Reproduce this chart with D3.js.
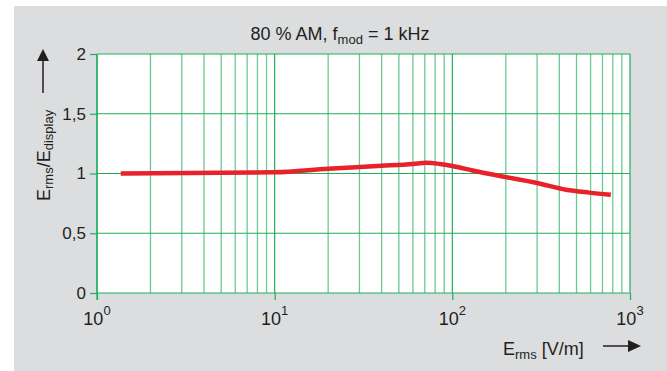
<!DOCTYPE html>
<html><head><meta charset="utf-8">
<script src="https://cdn.jsdelivr.net/npm/d3@7"></script>
<style>
html,body{margin:0;padding:0;background:#fff;}
svg text{font-family:"Liberation Sans",Arial,sans-serif;fill:#231f20;}
</style></head>
<body>
<svg id="c" width="667" height="371"></svg>
<script>
const fieldVm = [1.36, 10, 20, 40, 60, 71, 85, 100, 130, 200, 300, 437, 590, 780];
const ratio   = [1.00, 1.01, 1.04, 1.064, 1.08, 1.09, 1.08, 1.063, 1.025, 0.97, 0.92, 0.864, 0.84, 0.822];
const yTicks = [0, 0.5, 1, 1.5, 2];
const yTickLabels = ["0", "0,5", "1", "1,5", "2"];
const xDecades = [1, 10, 100, 1000];
const xDecadeExp = ["0", "1", "2", "3"];

const svg = d3.select("#c");
svg.append("rect").attr("x",14).attr("y",6).attr("width",653).attr("height",365).attr("fill","#dcdddf");

const L=97, R=630, T=54, B=293;
const x = d3.scaleLog().domain([1,1000]).range([L,R]);
const y = d3.scaleLinear().domain([0,2]).range([B,T]);

svg.append("rect").attr("x",L).attr("y",T).attr("width",R-L).attr("height",B-T).attr("fill","#fff");

// minor vertical grid
const minor = [];
for (let d=1; d<1000; d*=10) for (let k=2;k<=9;k++) minor.push(d*k);
svg.append("g").selectAll("line").data(minor).join("line")
  .attr("x1",d=>x(d)).attr("x2",d=>x(d)).attr("y1",T).attr("y2",B)
  .attr("stroke","#6cc994").attr("stroke-width",1.3);
// major vertical
svg.append("g").selectAll("line").data(xDecades).join("line")
  .attr("x1",d=>x(d)).attr("x2",d=>x(d)).attr("y1",T).attr("y2",B)
  .attr("stroke","#1fae5a").attr("stroke-width",1.2);
// horizontal grid
svg.append("g").selectAll("line").data(yTicks).join("line")
  .attr("x1",L).attr("x2",R).attr("y1",d=>y(d)).attr("y2",d=>y(d))
  .attr("stroke","#1fae5a").attr("stroke-width",1.2);

// axes
const yAxis = d3.axisLeft(y).tickValues(yTicks).tickSize(7).tickPadding(4)
  .tickFormat((d,i)=>yTickLabels[i]);
const gy = svg.append("g").attr("transform",`translate(${L},0)`).call(yAxis);
gy.select(".domain").attr("stroke","#1fae5a").attr("stroke-width",1.2).attr("d",`M0,${T}V${B+7}`);
gy.selectAll(".tick line").attr("stroke","#1fae5a").attr("stroke-width",1.2);
gy.selectAll(".tick text").attr("font-size",17).style("fill","#231f20").attr("font-family","Liberation Sans, Arial, sans-serif");

const xAxis = d3.axisBottom(x).tickValues(xDecades).tickSize(7).tickFormat("");
const gx = svg.append("g").attr("transform",`translate(0,${B})`).call(xAxis);
gx.select(".domain").remove();
gx.selectAll(".tick line").attr("stroke","#1fae5a").attr("stroke-width",1.2);

const xl = svg.append("g").selectAll("text").data(xDecades).join("text")
  .attr("x",d=>x(d)).attr("y",325).attr("text-anchor","middle")
  .attr("font-size",18);
xl.append("tspan").text("10");
xl.append("tspan").attr("dy",-10).attr("font-size",13).text((d,i)=>xDecadeExp[i]);

// curve
const line = d3.line().x((d,i)=>x(fieldVm[i])).y((d,i)=>y(ratio[i])).curve(d3.curveMonotoneX);
svg.append("path").datum(ratio).attr("d",line).attr("fill","none")
  .attr("stroke","#e8212b").attr("stroke-width",4.5).attr("stroke-linecap","butt");

// title
const t = svg.append("text").attr("x",340).attr("y",40).attr("text-anchor","middle").attr("font-size",18);
t.append("tspan").text("80 % AM, f");
t.append("tspan").attr("font-size",13).attr("dy",4).text("mod");
t.append("tspan").attr("dy",-4).text(" = 1 kHz");

// y label
const yl = svg.append("text").attr("transform","translate(50,201) rotate(-90)").attr("font-size",18);
yl.append("tspan").text("E");
yl.append("tspan").attr("font-size",13).attr("dy",3).text("rms");
yl.append("tspan").attr("dy",-3).text("/E");
yl.append("tspan").attr("font-size",13).attr("dy",3).text("display");
svg.append("line").attr("x1",43).attr("x2",43).attr("y1",93).attr("y2",60).attr("stroke","#231f20").attr("stroke-width",1.5);
svg.append("path").attr("d","M37,61 L49,61 L43,49 Z").attr("fill","#231f20");

// x label
const xt = svg.append("text").attr("x",503).attr("y",355).attr("font-size",18);
xt.append("tspan").text("E");
xt.append("tspan").attr("font-size",13).attr("dy",4).text("rms");
xt.append("tspan").attr("dy",-4).text(" [V/m]");
svg.append("line").attr("x1",603).attr("x2",630).attr("y1",346).attr("y2",346).attr("stroke","#231f20").attr("stroke-width",1.5);
svg.append("path").attr("d","M628,340 L628,352 L641,346 Z").attr("fill","#231f20");
</script>
</body></html>
